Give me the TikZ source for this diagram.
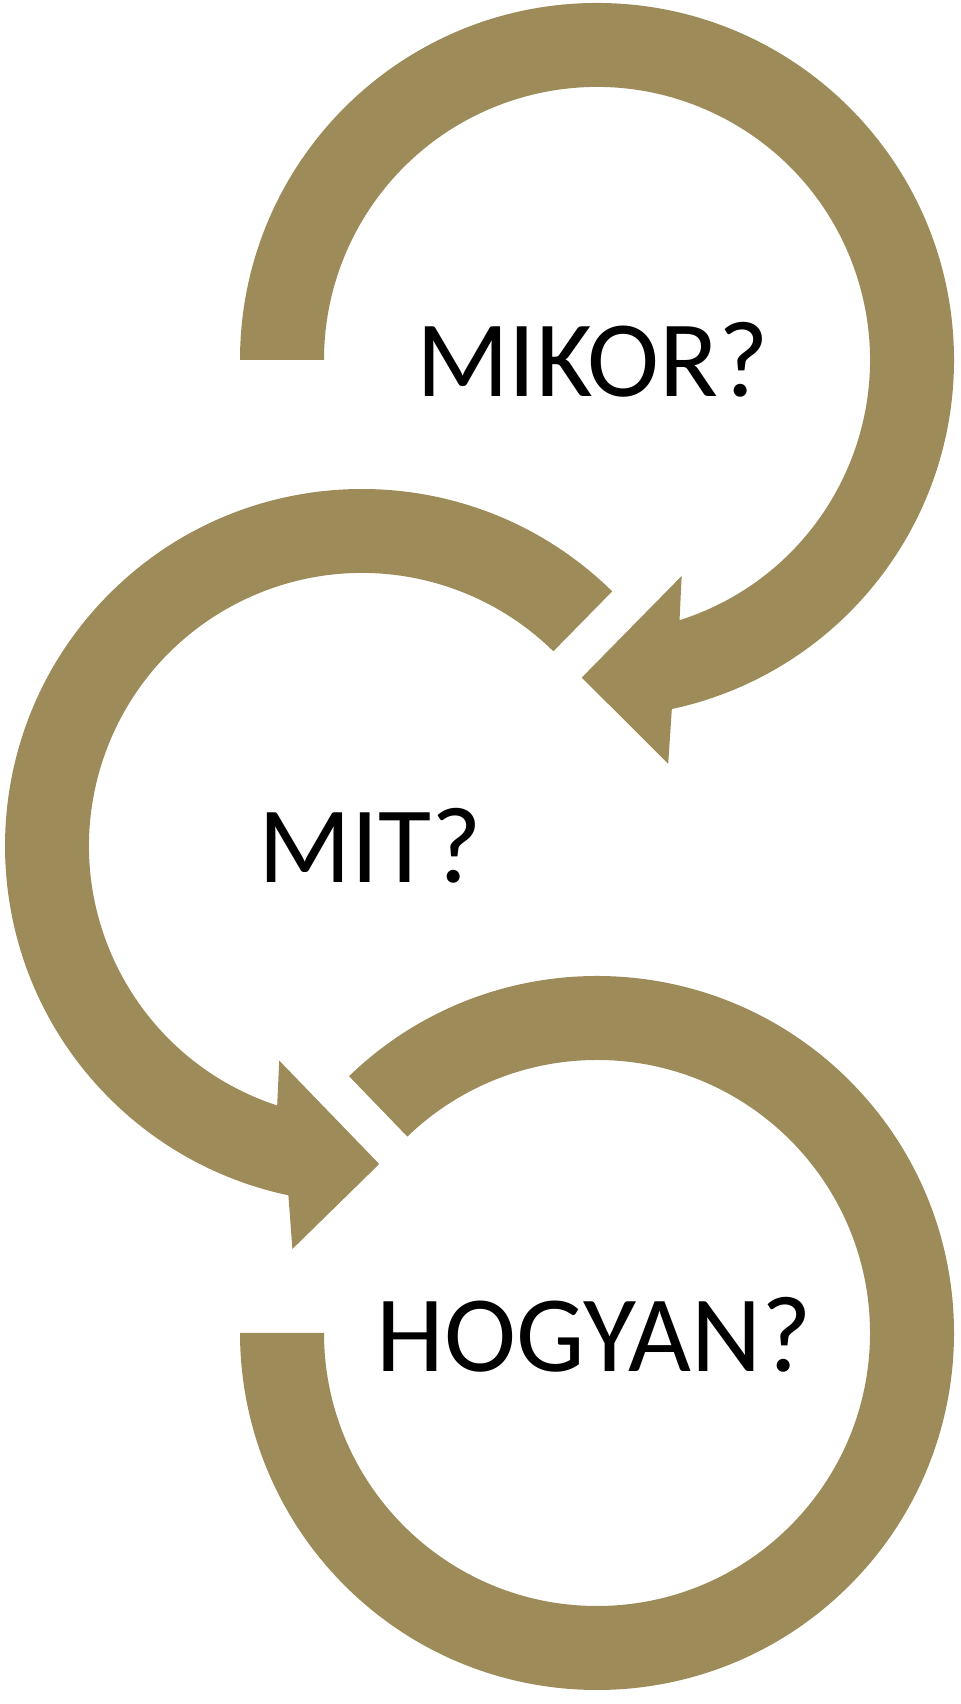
\documentclass[tikz,border=0pt]{standalone}
\usepackage{fontspec}
\setmainfont{Carlito}
\definecolor{olive}{RGB}{157,140,90}
\begin{document}
\begin{tikzpicture}[x=0.01cm,y=0.01cm,
  band/.style={fill=olive,draw=none},
  label/.style={font=\fontsize{30.9pt}{37pt}\selectfont,text=black,inner sep=0pt}]
\useasboundingbox (0,0) rectangle (960,1704);
\fill[white] (0,0) rectangle (960,1704);
% top arrow (MIKOR)
\coordinate (c1) at (597,1344);
\fill[band,shift={(c1)}] (180:357) arc[start angle=180,end angle=-77.9,radius=357]
  -- (-80:410) -- (-92.75:318) -- (-68.6:232) -- (-72.4:273)
  arc[start angle=-72.4,end angle=180,radius=273] -- cycle;
% middle arrow (MIT)
\coordinate (c2) at (362,858);
\fill[band,shift={(c2)}] (45.5:357) arc[start angle=45.5,end angle=258.1,radius=357]
  -- (260.2:409) -- (273.1:318.5) -- (248.9:230) -- (251.9:273)
  arc[start angle=251.9,end angle=45.5,radius=273] -- cycle;
% bottom arc (HOGYAN)
\coordinate (c3) at (597,371);
\fill[band,shift={(c3)}] (134:357) arc[start angle=134,end angle=-180,radius=357]
  -- (180:273) arc[start angle=180,end angle=494,radius=273] -- cycle;
\node[label] (mikor) at (592.5,1344) {MIKOR?};
\node[label] (mit) at (370,858) {MIT?};
\node[label] (hogyan) at (594,369) {HOGYAN?};
\end{tikzpicture}
\end{document}
